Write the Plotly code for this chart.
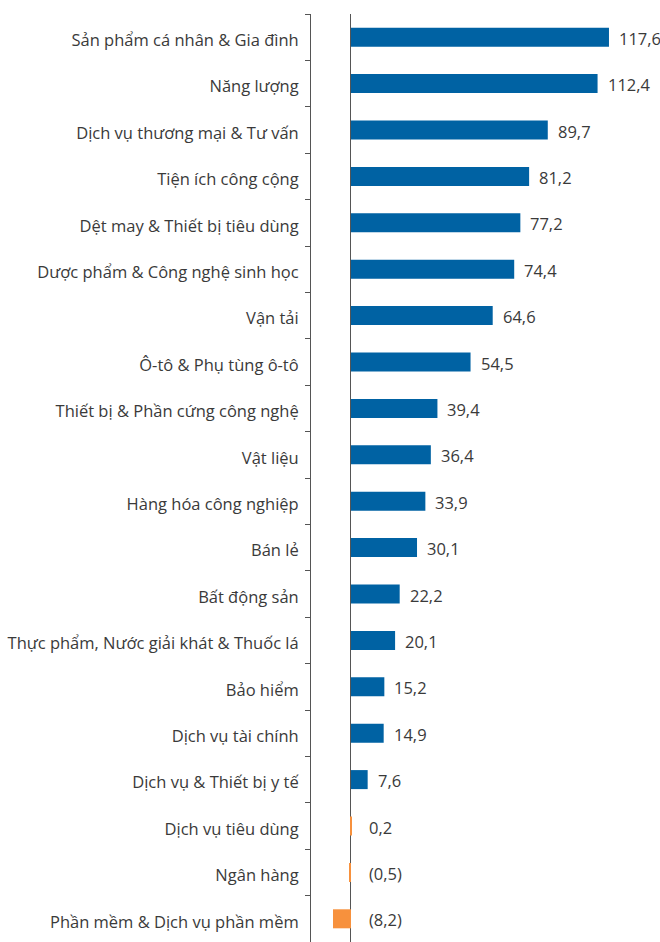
import plotly.graph_objects as go

# Sector figures (net value, bn), top to bottom
sectors = [
    "Sản phẩm cá nhân & Gia đình",
    "Năng lượng",
    "Dịch vụ thương mại & Tư vấn",
    "Tiện ích công cộng",
    "Dệt may & Thiết bị tiêu dùng",
    "Dược phẩm & Công nghệ sinh học",
    "Vận tải",
    "Ô-tô & Phụ tùng ô-tô",
    "Thiết bị & Phần cứng công nghệ",
    "Vật liệu",
    "Hàng hóa công nghiệp",
    "Bán lẻ",
    "Bất động sản",
    "Thực phẩm, Nước giải khát & Thuốc lá",
    "Bảo hiểm",
    "Dịch vụ tài chính",
    "Dịch vụ & Thiết bị y tế",
    "Dịch vụ tiêu dùng",
    "Ngân hàng",
    "Phần mềm & Dịch vụ phần mềm",
]
values = [117.6, 112.4, 89.7, 81.2, 77.2, 74.4, 64.6, 54.5, 39.4, 36.4,
          33.9, 30.1, 22.2, 20.1, 15.2, 14.9, 7.6, 0.2, -0.5, -8.2]

BLUE = "#0062a3"
ORANGE = "#f7913d"
TEXT = "#3a3a3a"
AXIS = "#555555"
FONT = "Open Sans"
SIZE = 16.5


def fmt(v):
    s = f"{abs(v):.1f}".replace(".", ",")
    return f"({s})" if v < 0 else s


colors = [BLUE if v >= 1 else ORANGE for v in values]

fig = go.Figure(
    go.Bar(
        x=values,
        y=sectors,
        orientation="h",
        marker=dict(color=colors, line=dict(width=0)),
        hoverinfo="skip",
    )
)

# value labels to the right of each bar (or of the zero line for small/negative values)
for s, v in zip(sectors, values):
    fig.add_annotation(
        x=max(v, 0),
        y=s,
        text=fmt(v),
        showarrow=False,
        xanchor="left",
        yshift=-1,
        xshift=8 if v >= 1 else 16,
        font=dict(family=FONT, size=SIZE, color=TEXT),
    )

fig.update_layout(
    width=660,
    height=942,
    margin=dict(l=311, r=10, t=14, b=0),
    paper_bgcolor="white",
    plot_bgcolor="white",
    bargap=0.59,
    showlegend=False,
    font=dict(family=FONT, size=SIZE, color=TEXT),
)
fig.update_xaxes(
    range=[-18.23, 136.3],
    showgrid=False,
    showticklabels=False,
    ticks="",
    zeroline=True,
    zerolinecolor=AXIS,
    zerolinewidth=1,
    showline=False,
)
fig.update_yaxes(
    type="category",
    autorange=False,
    range=[len(sectors) - 0.5, -0.5],
    showgrid=False,
    showline=True,
    linecolor=AXIS,
    linewidth=1,
    ticks="outside",
    tickson="boundaries",
    ticklen=5,
    tickcolor=AXIS,
    tickwidth=1,
    ticklabelstandoff=8,
    ticklabelshift=-3,
    tickfont=dict(family=FONT, size=SIZE, color=TEXT),
)

fig.write_html("out.html")
